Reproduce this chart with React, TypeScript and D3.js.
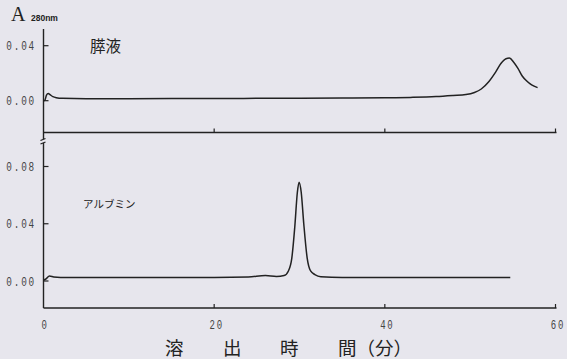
import React from "react";
import * as d3 from "d3";

// 膵液 trace (minutes, A280)
const pancreasTime = [0, 0.15, 0.35, 0.55, 0.8, 1.1, 1.5, 2.2, 5, 10, 15, 20, 25, 30, 35, 40, 43, 46, 48, 49.5, 50.5, 51.3, 52.2, 53, 53.6, 54.2, 54.6, 55.1, 55.6, 56.1, 56.6, 57.2, 57.9];
const pancreasAbs = [0, 0.0002, 0.004, 0.0052, 0.0042, 0.003, 0.0022, 0.0017, 0.0015, 0.0015, 0.0016, 0.0016, 0.0017, 0.0018, 0.0019, 0.0021, 0.0024, 0.003, 0.0038, 0.0045, 0.006, 0.0085, 0.014, 0.021, 0.027, 0.0305, 0.031, 0.028, 0.0235, 0.018, 0.0145, 0.0115, 0.0095];

// アルブミン trace
const albuminTime = [0, 0.3, 0.7, 1.2, 2, 10, 20, 24, 26, 27.3, 28.2, 28.7, 29.1, 29.45, 29.75, 29.95, 30.2, 30.5, 30.9, 31.3, 31.8, 32.5, 35, 45, 54.7];
const albuminAbs = [0.0005, 0.0015, 0.0035, 0.0028, 0.0025, 0.0025, 0.0025, 0.0028, 0.0038, 0.0032, 0.0038, 0.007, 0.016, 0.038, 0.062, 0.069, 0.062, 0.04, 0.016, 0.007, 0.0045, 0.003, 0.0025, 0.0025, 0.0025];

const xTicks = [0, 20, 40, 60];
const topTicks = [0, 0.04];
const bottomTicks = [0, 0.04, 0.08];

const W = 567;
const H = 359;
const ink = "#222";
const axisX = 43.5;
const topAxisY = 132.5;
const bottomAxisY = 308;

const x = d3.scaleLinear().domain([0, 60]).range([axisX, 555.5]);
const yTop = d3.scaleLinear().domain([0, 0.04]).range([100.7, 45.7]);
const yBottom = d3.scaleLinear().domain([0, 0.08]).range([281, 166.5]);

const fmt = (v: number) => v.toFixed(2);

const App = () => {
  const topLine = d3
    .line<number>()
    .x((d, i) => x(pancreasTime[i]))
    .y((d) => yTop(d))
    .curve(d3.curveMonotoneX);
  const bottomLine = d3
    .line<number>()
    .x((d, i) => x(albuminTime[i]))
    .y((d) => yBottom(d))
    .curve(d3.curveMonotoneX);

  const monoLabel = (text: string, xr: number, yc: number, key: string) => (
    <text
      key={key}
      transform={`translate(${xr},${yc + 4.5}) scale(0.72,1)`}
      textAnchor="end"
      fontFamily="Liberation Mono, DejaVu Sans Mono, monospace"
      fontSize={13}
      letterSpacing={2.5}
      fill="#444"
    >
      {text}
    </text>
  );

  return (
    <svg
      width={W}
      height={H}
      style={{ position: "absolute", left: 0, top: 0, background: "#e7e6ed" }}
    >
      {/* header */}
      <text x={11} y={21} fontFamily="Liberation Serif, serif" fontSize={20} fill={ink}>
        A
      </text>
      <text x={31} y={21} fontFamily="Liberation Sans, sans-serif" fontWeight="bold" fontSize={8.5} fill={ink}>
        280nm
      </text>

      {/* y axis */}
      <line x1={axisX} x2={axisX} y1={29} y2={bottomAxisY} stroke={ink} strokeWidth={1.4} />
      {/* break mark */}
      <rect x={axisX - 4} y={139} width={8} height={4} fill="#e7e6ed" />
      <line x1={axisX - 3} x2={axisX + 2} y1={140.5} y2={138.5} stroke={ink} strokeWidth={1.2} />
      <line x1={axisX - 3} x2={axisX + 2} y1={144} y2={142} stroke={ink} strokeWidth={1.2} />

      {/* horizontal axes */}
      {[topAxisY, bottomAxisY].map((yy) => (
        <g key={yy}>
          <line x1={axisX} x2={x(60) + 1} y1={yy} y2={yy} stroke={ink} strokeWidth={1.4} />
          {xTicks.slice(1).map((t) => (
            <line key={t} x1={x(t)} x2={x(t)} y1={yy} y2={yy - 4} stroke={ink} strokeWidth={1.2} />
          ))}
        </g>
      ))}

      {/* y ticks */}
      {topTicks.map((t) => (
        <g key={"t" + t}>
          <line x1={axisX} x2={axisX + 5} y1={yTop(t)} y2={yTop(t)} stroke={ink} strokeWidth={1.2} />
          {monoLabel(fmt(t), 36, yTop(t), "tl" + t)}
        </g>
      ))}
      {bottomTicks.map((t) => (
        <g key={"b" + t}>
          <line x1={axisX} x2={axisX + 5} y1={yBottom(t)} y2={yBottom(t)} stroke={ink} strokeWidth={1.2} />
          {monoLabel(fmt(t), 36, yBottom(t), "bl" + t)}
        </g>
      ))}

      {/* x tick labels */}
      {xTicks.map((t) => (
        <text
          key={"x" + t}
          transform={`translate(${x(t) + (t === 0 ? 1.5 : 2.5)},329) scale(0.72,1)`}
          textAnchor="middle"
          fontFamily="Liberation Mono, DejaVu Sans Mono, monospace"
          fontSize={12.5}
          letterSpacing={2.5}
          fill="#444"
        >
          {t}
        </text>
      ))}

      {/* traces */}
      <path d={topLine(pancreasAbs) || ""} fill="none" stroke={ink} strokeWidth={1.5} />
      <path d={bottomLine(albuminAbs) || ""} fill="none" stroke={ink} strokeWidth={1.5} />

      {/* panel labels */}
      <text x={90} y={52} fontFamily="Noto Sans CJK JP" fontSize={15.5} fill={ink}>
        膵液
      </text>
      <text x={83} y={208} fontFamily="Noto Sans CJK JP" fontSize={10.5} fill={ink}>
        アルブミン
      </text>

      {/* x axis title */}
      <g fontFamily="Noto Sans CJK JP" fontSize={18.5} fill={ink}>
        <text x={165} y={355}>溶</text>
        <text x={223} y={355}>出</text>
        <text x={280} y={355}>時</text>
        <text x={338} y={355}>間（分）</text>
      </g>
    </svg>
  );
};

export default App;
